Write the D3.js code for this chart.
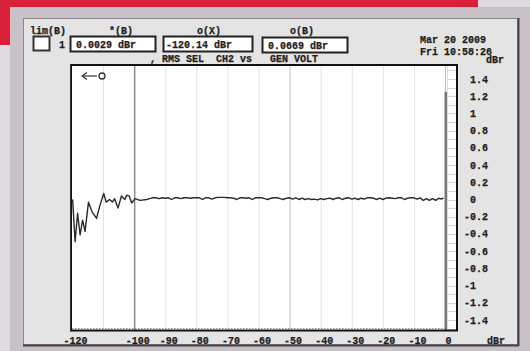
<!DOCTYPE html>
<html><head><meta charset="utf-8">
<script src="https://cdn.jsdelivr.net/npm/d3@7"></script>
<style>
html,body{margin:0;padding:0;background:#dedcde;}
svg{display:block;}
text{font-family:"Liberation Mono","DejaVu Sans Mono",monospace;font-weight:bold;font-size:10px;fill:#1e1e1e;stroke:#1e1e1e;stroke-width:0.25px;}
</style></head><body>
<svg id="c" width="530" height="351"></svg>
<script>
// ---- data ----
const xTicks = [-120, -100, -90, -80, -70, -60, -50, -40, -30, -20, -10, 0];
const xGrid = [-110, -100, -90, -80, -70, -60, -50, -40, -30, -20, -10];
const yTicks = [1.4, 1.2, 1, 0.8, 0.6, 0.4, 0.2, 0, -0.2, -0.4, -0.6, -0.8, -1, -1.2, -1.4];
const seriesX = [-119.8,-119.0,-118.2,-117.4,-116.6,-115.8,-114.7,-113.6,-112.1,-111.1,-109.8,-109.0,-107.9,-107.0,-106.3,-105.2,-104.1,-103.0,-102.4,-101.6,-100.8,-99.7,-98.1,-96.0,
 -95,-94,-93,-92,-91,-90,-89,-88,-87,-86,-85,-84,-83,-82,-81,-80,-79,-78,-77,-76,-75,-74,-73,-72,-71,-70,-69,-68,-67,-66,-65,-64,-63,-62,-61,-60,-59,-58,-57,-56,-55,-54,-53,-52,-51,-50,-49,-48,-47,-46,-45,-44,-43,-42,-41,-40,-39,-38,-37,-36,-35,-34,-33,-32,-31,-30,-29,-28,-27,-26,-25,-24,-23,-22,-21,-20,-19,-18,-17,-16,-15,-14,-13,-12,-11,-10,-9,-8,-7,-6,-5,-4,-3,-2,-1,-0.5];
const seriesY = [0,-0.49,-0.16,-0.41,-0.24,-0.37,-0.03,-0.14,-0.22,-0.08,0.07,-0.03,0.0,-0.03,0.01,-0.10,0.04,0.0,0.05,0.04,-0.04,0.01,-0.01,0.0,
 0.01,0.02,0.02,0.01,0.02,0.015,0.02,0.0,0.02,0.02,0.01,0.02,0.02,0.015,0.02,0.02,0.02,0.0,0.02,0.02,0.005,0.02,0.025,0.025,0.025,0.02,0.02,0.015,0.0,0.02,0.02,0.015,0.02,0.0,0.02,0.02,0.02,0.01,0.0,0.015,0.02,0.02,0.01,0.0,0.015,0.02,0.005,0.02,0.0,0.015,0.0,0.01,0.0,0.005,-0.005,0.01,0.0,0.01,0.015,0.0,0.015,0.02,0.0,0.015,0.02,0.005,0.015,0.0,0.015,0.005,0.02,0.02,0.015,0.0,0.015,0.0,0.015,0.02,0.015,0.01,0.02,0.02,0.0,0.015,0.02,0.02,0.005,0.02,-0.01,0.01,-0.01,0.01,-0.01,0.015,0.005,0.02];
const headerLabels = ["lim(B)", "*(B)", "o(X)", "o(B)"];
const readings = ["0.0029 dBr", "-120.14 dBr", "0.0669 dBr"];
const subtitle = ", RMS SEL  CH2 vs   GEN VOLT";
const dateLines = ["Mar 20 2009", "Fri 10:58:26"];
const unit = "dBr";
const barTop = 1.25;
const limitLine = -1.5;

// ---- drawing ----
const svg = d3.select("#c");
svg.append("rect").attr("x",0).attr("y",0).attr("width",530).attr("height",351).attr("fill","#dedcde");
svg.append("rect").attr("x",10).attr("y",7).attr("width",520).attr("height",344).attr("fill","#c8c2c8");
svg.append("rect").attr("x",0).attr("y",0).attr("width",478).attr("height",7).attr("fill","#d9203a");
svg.append("rect").attr("x",0).attr("y",0).attr("width",10).attr("height",45).attr("fill","#d9203a");
// panel
svg.append("rect").attr("x",23.5).attr("y",18.5).attr("width",494).attr("height",326).attr("fill","#e4e4e4").attr("stroke","#8a868a");
svg.append("line").attr("x1",518.5).attr("x2",518.5).attr("y1",18).attr("y2",346).attr("stroke","#444").attr("stroke-width",2);
svg.append("line").attr("x1",23).attr("x2",519).attr("y1",345.5).attr("y2",345.5).attr("stroke","#444").attr("stroke-width",2);

const x = d3.scaleLinear().domain([-120,0]).range([72,445]);
const y = d3.scaleLinear().domain([-1.4,1.4]).range([320,79]);
const pTop = 65, pBottom = 330.5, pLeft = 71, pRight = 457;

svg.append("rect").attr("x",pLeft).attr("y",pTop).attr("width",pRight-pLeft).attr("height",pBottom-pTop).attr("fill","#fff");
svg.append("g").selectAll("line").data(xGrid).join("line")
  .attr("x1",d=>x(d)+0.5).attr("x2",d=>x(d)+0.5).attr("y1",pTop).attr("y2",pBottom)
  .attr("stroke",d=>d===-100?"#8c8c8c":(d===-50?"#c4c4c4":"#e2e2e2"))
  .attr("stroke-width",d=>d===-100?1.5:1);
svg.append("line").attr("x1",x(0)+0.5).attr("x2",x(0)+0.5).attr("y1",pTop).attr("y2",pBottom).attr("stroke","#bbb");
const stripTicks = d3.range(-15,16).map(i=>i/10);
svg.append("g").selectAll("line").data(stripTicks).join("line")
  .attr("x1",x(0)+2).attr("x2",pRight).attr("y1",d=>Math.round(y(d))+0.5).attr("y2",d=>Math.round(y(d))+0.5)
  .attr("stroke","#d6d6d6");
svg.append("line").attr("x1",x(0)+2.5).attr("x2",x(0)+2.5).attr("y1",pTop).attr("y2",pBottom).attr("stroke","#ddd");
svg.append("line").attr("x1",pLeft+1).attr("x2",x(0)).attr("y1",y(limitLine)).attr("y2",y(limitLine))
  .attr("stroke","#888").attr("stroke-dasharray","1.5,1.5");
svg.append("rect").attr("x",x(0)-0.5).attr("y",y(barTop)).attr("width",2.5).attr("height",pBottom-y(barTop)).attr("fill","#777");
const pts = seriesX.map((v,i)=>[v,seriesY[i]]);
svg.append("path").datum(pts)
  .attr("d",d3.line().x(d=>x(d[0])).y(d=>y(d[1])))
  .attr("fill","none").attr("stroke","#2a2a2a").attr("stroke-width",1.4).attr("stroke-linejoin","round");
svg.append("rect").attr("x",pLeft).attr("y",pTop).attr("width",pRight-pLeft).attr("height",pBottom-pTop)
  .attr("fill","none").attr("stroke","#111").attr("stroke-width",2);
svg.append("line").attr("x1",pLeft-0.5).attr("x2",pLeft-0.5).attr("y1",pTop-1).attr("y2",pBottom+1).attr("stroke","#333").attr("stroke-width",1);
svg.append("line").attr("x1",83).attr("x2",97).attr("y1",76).attr("y2",76).attr("stroke","#333").attr("stroke-width",1.2);
svg.append("path").attr("d","M87,72.5 L82,76 L87,79.5").attr("fill","none").attr("stroke","#333").attr("stroke-width",1.2);
svg.append("circle").attr("cx",102).attr("cy",76).attr("r",3).attr("fill","none").attr("stroke","#333").attr("stroke-width",1.3);

svg.append("g").selectAll("text").data(yTicks).join("text")
  .attr("x",d=>d<0?464:470).attr("y",d=>y(d)+3.5)
  .text(d=>String(+d.toFixed(1)));
svg.append("g").selectAll("text").data(xTicks).join("text")
  .attr("x",d=>x(d)+3.5).attr("y",343.5).attr("text-anchor","middle")
  .text(d=>String(d));
svg.append("text").attr("x",487).attr("y",343.5).text(unit);
svg.append("text").attr("x",486).attr("y",63).text(unit);

svg.append("text").attr("x",30).attr("y",33.5).text(headerLabels[0]);
const hdrX = [121, 209, 302];
headerLabels.slice(1).forEach((t,i)=>svg.append("text").attr("x",hdrX[i]).attr("y",33.5).attr("text-anchor","middle").text(t));
svg.append("rect").attr("x",33.5).attr("y",36.5).attr("width",16).attr("height",14).attr("fill","#fff").attr("stroke","#333").attr("stroke-width",2);
svg.append("text").attr("x",62).attr("y",47.5).attr("text-anchor","middle").text("1");
const boxes = [[70,36,85,15],[163,36,89,15],[262,37,85,15]];
boxes.forEach((b,i)=>{
  svg.append("rect").attr("x",b[0]+0.5).attr("y",b[1]+0.5).attr("width",b[2]).attr("height",b[3])
    .attr("fill","#fff").attr("stroke","#222").attr("stroke-width",2);
  svg.append("text").attr("x",b[0]+(i===1?3:6)).attr("y",b[1]+11.5).text(readings[i]);
});
svg.append("text").attr("x",150).attr("y",61.5).attr("xml:space","preserve").style("white-space","pre").text(subtitle);
svg.append("text").attr("x",420).attr("y",42.5).text(dateLines[0]);
svg.append("text").attr("x",420).attr("y",55).text(dateLines[1]);
</script>
</body></html>
